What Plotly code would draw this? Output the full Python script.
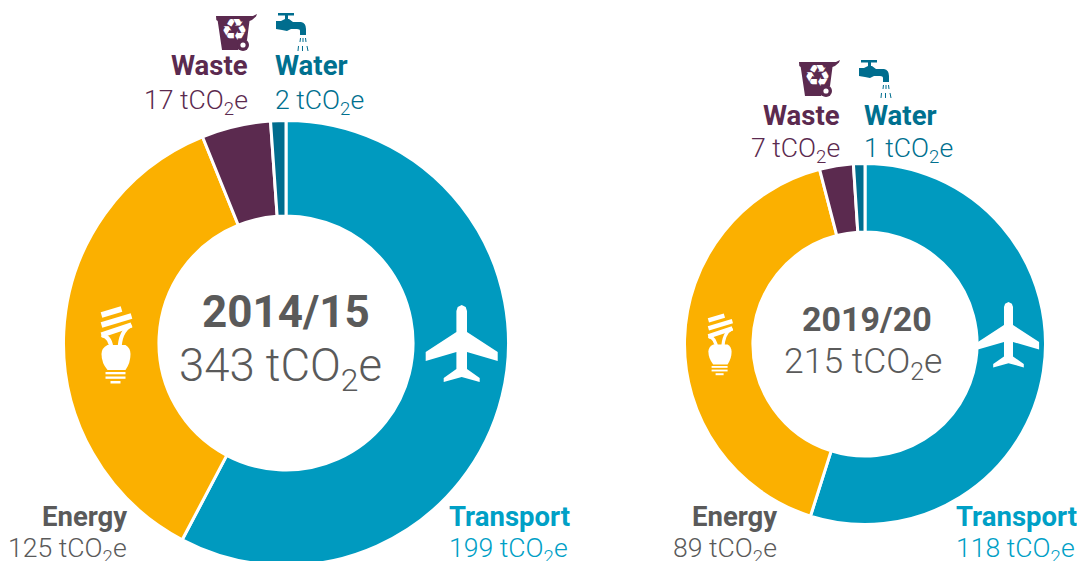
import plotly.graph_objects as go

W, H = 1077, 566

categories = ["Transport", "Energy", "Waste", "Water"]
# printed values (used for the labels)
values_2014 = [199, 125, 17, 2]
values_2019 = [118, 89, 7, 1]
# wedge sizes as measured from the drawn angles: the reference draws the
# smallest wedges wider than their printed values
arcs_2014 = [198, 124, 17.2, 3.8]
arcs_2019 = [118, 88.3, 6.5, 2.2]
title_2014 = "2014/15"
title_2019 = "2019/20"
unit = "tCO<sub>2</sub>e"
total_2014 = 343
total_2019 = 215

BLUE, AMBER, PLUM, TEAL = "#009ABF", "#FBB000", "#5B2A4F", "#006D8E"
GREY = "#5A5A5A"
colors = [BLUE, AMBER, PLUM, TEAL]
text_colors = {"Transport": "#00A0C6", "Energy": GREY, "Waste": PLUM, "Water": "#00708F"}
FONT = "Roboto"


def px(x, y):
    return f"{x / W:.5f} {1 - y / H:.5f}"


def path(pts, ox, oy, s=1.0, close=True):
    out = []
    for i, (x, y) in enumerate(pts):
        out.append(("M" if i == 0 else "L") + px(ox + x * s, oy + y * s))
    return " ".join(out) + (" Z" if close else "")


def curve(cmds, ox, oy, s=1.0):
    out = []
    for c, *p in cmds:
        coords = [px(ox + p[i] * s, oy + p[i + 1] * s) for i in range(0, len(p), 2)]
        out.append(c + " ".join(coords))
    return " ".join(out)


shapes = []


def fill_shape(d, color):
    shapes.append(dict(type="path", xref="paper", yref="paper", path=d, fillcolor=color, line=dict(width=0), layer="above"))


def stroke_shape(d, color, width):
    shapes.append(dict(type="path", xref="paper", yref="paper", path=d, line=dict(color=color, width=width), layer="above"))


def circle(cx, cy, r, color):
    shapes.append(dict(type="circle", xref="paper", yref="paper", x0=(cx - r) / W, x1=(cx + r) / W,
                       y0=1 - (cy + r) / H, y1=1 - (cy - r) / H, fillcolor=color, line=dict(width=0), layer="above"))


def plane(cx, top, s):
    pts = [(-5.3, 6), (-4, 2), (0, 0), (4, 2), (5.3, 6), (5.3, 27), (36, 47), (36, 56), (5.3, 47), (5.3, 64),
           (18, 73), (18, 77), (0, 72), (-18, 77), (-18, 73), (-5.3, 64), (-5.3, 47), (-36, 56), (-36, 47), (-5.3, 27)]
    fill_shape(path(pts, cx, top, s), "white")


def bulb(ox, oy, s):
    for a, b in [((3, 8), (23, 2)), ((3, 18), (33, 9)), ((3, 28), (33, 18))]:
        stroke_shape(path([a, b], ox, oy, s, close=False), "white", 5.5 * s)
    stroke_shape(curve([("M", 3, 28), ("Q", 13, 30, 13, 44)], ox, oy, s), "white", 4 * s)
    stroke_shape(curve([("M", 33, 18), ("Q", 21, 24, 21, 44)], ox, oy, s), "white", 4 * s)
    fill_shape(curve([("M", 3, 47), ("Q", 3, 41, 9, 38), ("L", 27, 38), ("Q", 32, 41, 32, 47),
                      ("Q", 32, 56, 27, 63), ("L", 9, 63), ("Q", 3, 56, 3, 47), ("Z",)], ox, oy, s), "white")
    fill_shape(path([(7, 65), (27, 65), (27, 67.3), (7, 67.3)], ox, oy, s), "white")
    fill_shape(path([(7, 69.5), (27, 69.5), (27, 71.8), (7, 71.8)], ox, oy, s), "white")
    fill_shape(path([(12, 74), (22, 74), (22, 76.5), (12, 76.5)], ox, oy, s), "white")


def bin_icon(ox, oy):
    fill_shape(path([(0, 1), (33, 1), (37, 1), (41, -1), (40, 1.5), (36, 5), (33.5, 6), (31, 25), (22, 35), (6, 35), (1.7, 6), (0.3, 5)], ox, oy), PLUM)
    circle(ox + 27, oy + 30, 6, PLUM)
    circle(ox + 27, oy + 30, 2.6, "white")


def tap_icon(ox, oy):
    fill_shape(path([(2, 0), (18, 0), (18, 2.5), (12, 2.5), (12, 7), (9, 7), (9, 2.5), (2, 2.5)], ox, oy), TEAL)
    fill_shape(curve([("M", 0, 8), ("L", 5, 8), ("L", 9, 6), ("L", 13, 6), ("L", 17, 9), ("L", 25, 9),
                      ("Q", 30, 10, 30, 16), ("L", 30, 22), ("L", 24, 22), ("L", 24, 18), ("Q", 24, 16, 21, 16),
                      ("L", 15, 16), ("L", 11, 18), ("L", 6, 17), ("L", 0, 16), ("Z",)], ox, oy), TEAL)
    for a, b in [((24.5, 25), (24, 29)), ((27, 25), (27, 29)), ((29.5, 25), (30, 29)),
                 ((22.5, 33), (22, 38)), ((26.5, 33), (26.5, 38)), ((31, 33), (32, 38))]:
        stroke_shape(path([a, b], ox, oy, 1, close=False), TEAL, 1)


annotations = []


def label(x, y, text, color, size, anchor="center", weight=400):
    annotations.append(dict(x=x / W, y=1 - y / H, xref="paper", yref="paper", text=text, showarrow=False,
                            xanchor=anchor, yanchor="middle", borderpad=0, borderwidth=0,
                            font=dict(family=FONT, size=size, color=color, weight=weight)))


def donut(cx, cy, r, hole, arcs, vals, title, total, lbl_pos, tsize, tsub, tx, ty, sx, sy):
    fig.add_trace(go.Pie(labels=categories, values=arcs, hole=hole, sort=False, direction="clockwise", rotation=0,
                         textinfo="none", hoverinfo="label", showlegend=False,
                         marker=dict(colors=colors, line=dict(color="white", width=3)),
                         domain=dict(x=[(cx - r) / W, (cx + r) / W], y=[1 - (cy + r) / H, 1 - (cy - r) / H])))
    label(tx, ty, f"<b>{title}</b>", GREY, tsize, weight=700)
    label(sx, sy, f"{total} {unit}", GREY, tsub, weight=300)
    for name, v in zip(categories, vals):
        x, y1, y2, anc = lbl_pos[name]
        label(x, y1, f"<b>{name}</b>", text_colors[name], 27.5, anc, 700)
        label(x, y2, f"{v} {unit}", text_colors[name], 26.6, anc, 300)


fig = go.Figure()
donut(286, 343, 222.5, 0.571, arcs_2014, values_2014, title_2014, total_2014,
      {"Transport": (449, 516, 550, "left"), "Energy": (127, 516, 550, "right"),
       "Waste": (248, 66, 102, "right"), "Water": (275, 66, 102, "left")}, 44, 45.5, 286, 312, 280, 369)
donut(865, 344, 180.5, 0.621, arcs_2019, values_2019, title_2019, total_2019,
      {"Transport": (956, 516, 550, "left"), "Energy": (777, 516, 550, "right"),
       "Waste": (840, 115, 150, "right"), "Water": (864, 115, 150, "left")}, 34, 35.5, 867, 319, 863, 363)

plane(461.7, 305, 1.0)
plane(1008.5, 302, 0.85)
bulb(98.5, 307, 1.0)
bulb(706, 314, 0.8)
bin_icon(216, 15)
bin_icon(799, 61)
tap_icon(276, 13)
tap_icon(859, 60)
for x, y, s in [(234, 29, 30), (817, 75, 30)]:
    annotations.append(dict(x=x / W, y=1 - y / H, xref="paper", yref="paper", text="\u267b", showarrow=False,
                            xanchor="center", yanchor="middle", font=dict(family="DejaVu Sans", size=s, color="white")))

fig.update_layout(width=W, height=H, margin=dict(l=0, r=0, t=0, b=0), paper_bgcolor="white",
                  shapes=shapes, annotations=annotations)
fig.write_html("out.html", post_script="document.documentElement.style.overflow='hidden';document.body.style.overflow='hidden';document.body.style.margin='0';",
               config=dict(displayModeBar=False))
